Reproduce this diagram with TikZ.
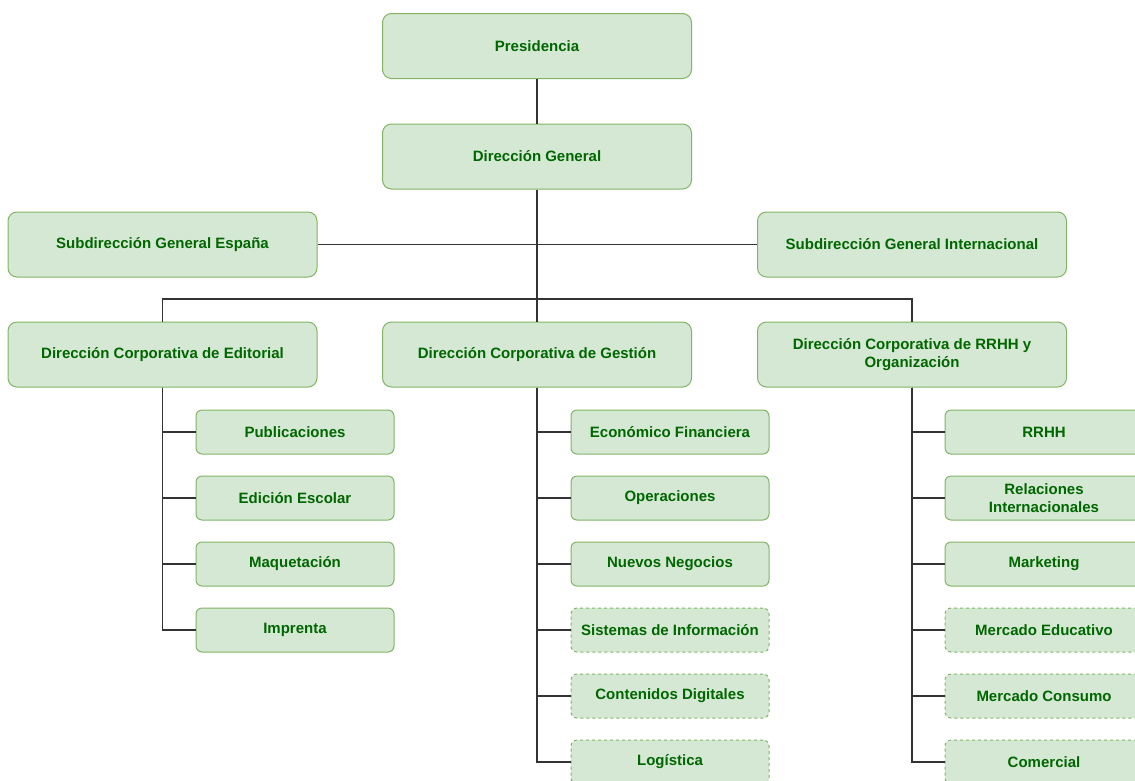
\documentclass[tikz,border=0pt]{standalone}
\usepackage{fontspec}
\setmainfont{Liberation Sans}
\definecolor{boxfill}{HTML}{D5E8D4}
\definecolor{boxline}{HTML}{82B366}
\definecolor{boxtext}{HTML}{006600}
\definecolor{edge}{HTML}{333333}
\tikzset{
  bigbox/.style={draw=boxline, fill=boxfill, line width=1pt, rounded corners=9pt,
    minimum width=309pt, minimum height=65pt, inner sep=0pt, align=center,
    text=boxtext, font=\fontsize{15}{18}\selectfont\bfseries},
  smallbox/.style={draw=boxline, fill=boxfill, line width=1pt, rounded corners=6pt,
    minimum width=198pt, minimum height=44pt, inner sep=0pt, align=center,
    text=boxtext, font=\fontsize{15}{18}\selectfont\bfseries},
  optbox/.style={smallbox, dash pattern=on 3pt off 3pt},
  link/.style={draw=edge, line width=1.1pt}
}
\begin{document}
\begin{tikzpicture}[x=1pt,y=-1pt]
\useasboundingbox (0,0) rectangle (1135,780);
\clip (0,0) rectangle (1135,780);
\node[bigbox] (pres) at (537,46) {Presidencia};
\node[bigbox] (dg) at (537,156.5) {Dirección General};
\node[bigbox] (spain) at (162.5,244.5) {Subdirección General España};
\node[bigbox] (intl) at (912,244.5) {Subdirección General Internacional};
\node[bigbox] (edit) at (162.5,354.5) {Dirección Corporativa de Editorial};
\node[bigbox] (gest) at (537,354.5) {Dirección Corporativa de Gestión};
\node[bigbox] (rrhh) at (912,354.5) {Dirección Corporativa de RRHH y\\Organización};
\coordinate (bus) at (537,299);

% Editorial children
\node[smallbox] (pub) at (295,432) {Publicaciones};
\node[smallbox] (esc) at (295,498) {Edición Escolar};
\node[smallbox] (maq) at (295,564) {Maquetación};
\node[smallbox] (imp) at (295,630) {Imprenta};

% Gestion children
\node[smallbox] (eco) at (670,432) {Económico Financiera};
\node[smallbox] (ope) at (670,498) {Operaciones};
\node[smallbox] (neg) at (670,564) {Nuevos Negocios};
\node[optbox] (sis) at (670,630) {Sistemas de Información};
\node[optbox] (con) at (670,696) {Contenidos Digitales};
\node[optbox] (log) at (670,762) {Logística};

% RRHH children
\node[smallbox] (rh) at (1044,432) {RRHH};
\node[smallbox] (rel) at (1044,498) {Relaciones\\Internacionales};
\node[smallbox] (mkt) at (1044,564) {Marketing};
\node[optbox] (med) at (1044,630) {Mercado Educativo};
\node[optbox] (mco) at (1044,696) {Mercado Consumo};
\node[optbox] (com) at (1044,762) {Comercial};

\begin{scope}[on background layer/.style={}]
\draw[link] (pres) -- (dg);
\draw[link] (dg) -- (gest);
\draw[link] (spain) -- (intl);
\draw[link] (edit.north) |- (bus) -| (rrhh.north);
\foreach \c in {pub,esc,maq,imp} \draw[link] (edit.south) |- (\c.west);
\foreach \c in {eco,ope,neg,sis,con,log} \draw[link] (gest.south) |- (\c.west);
\foreach \c in {rh,rel,mkt,med,mco,com} \draw[link] (rrhh.south) |- (\c.west);
\end{scope}
\end{tikzpicture}
\end{document}
